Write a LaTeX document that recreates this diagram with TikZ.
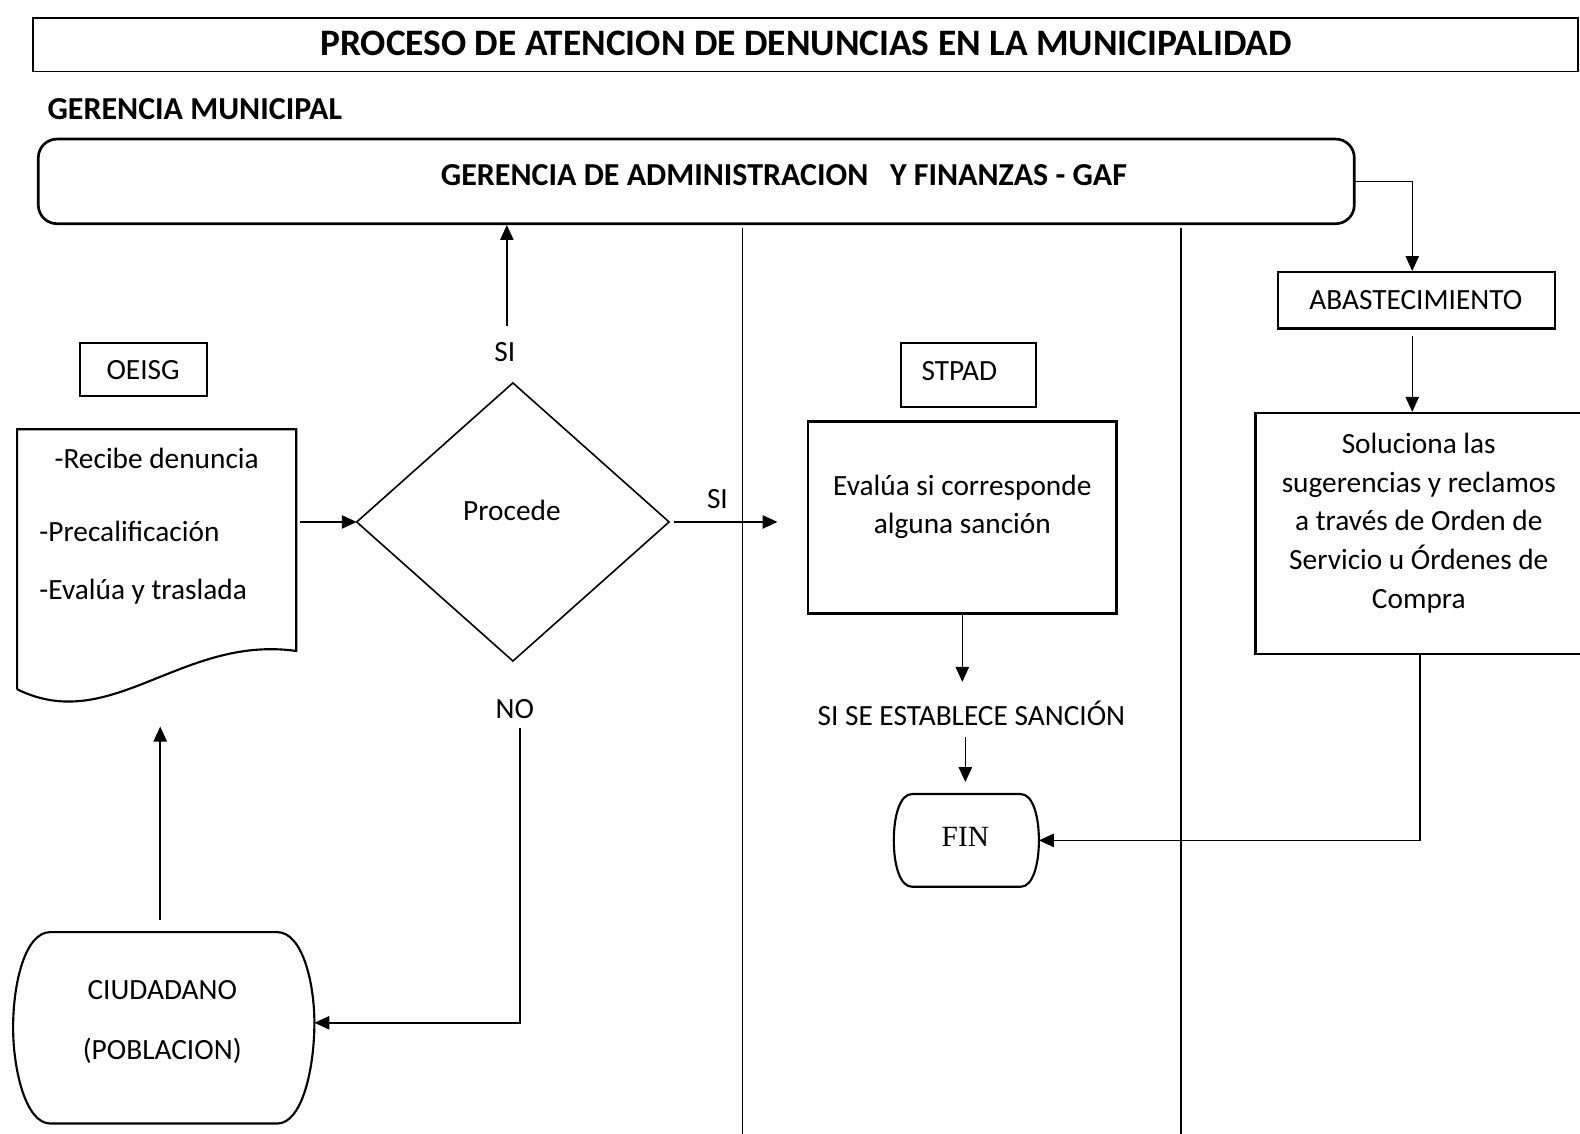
\documentclass[tikz,border=0pt]{standalone}
\usepackage{fontspec}
\setmainfont{Carlito}
\newfontfamily\timesf{Liberation Serif}
\usetikzlibrary{arrows.meta,fit,calc}
\tikzset{
  box/.style={draw, line width=0.8pt, inner sep=0pt},
  txt/.style={inner sep=1pt, font=\fontsize{11}{14.5}\selectfont, align=center},
  conn/.style={line width=0.55pt},
  arr/.style={conn, -{Triangle[length=5.6pt,width=5pt]}},
  lane/.style={line width=0.45pt}
}
\begin{document}
\begin{tikzpicture}[x=0.3779pt, y=-0.3779pt]
\useasboundingbox (0,0) rectangle (1568,1125);

% title
\node[box, line width=0.6pt, fit={(33,18) (1566,71)}] (titlebox) {};
\node[txt, font=\fontsize{14}{17}\bfseries] (title) at (800,43) {PROCESO DE ATENCION DE DENUNCIAS EN LA MUNICIPALIDAD};

\node[txt, font=\fontsize{12}{14}\bfseries, anchor=west] (gm) at (44,108) {GERENCIA MUNICIPAL};

% GAF
\node[box, rounded corners=7pt, line width=1pt, fit={(38,138) (1344,222)}] (gaf) {};
\node[txt, font=\fontsize{12}{14}\bfseries] (gaftxt) at (778,174) {GERENCIA DE ADMINISTRACION\ \ \ Y FINANZAS - GAF};

% lanes
\coordinate (l1t) at (737,226); \coordinate (l1b) at (737,1130);
\coordinate (l2t) at (1172,226); \coordinate (l2b) at (1172,1130);
\draw[lane] (l1t) -- (l1b);
\draw[lane] (l2t) -- (l2b);

% OEISG
\node[box, fit={(79,340) (205,393)}] (oeisg) {};
\node[txt] (oeisgtxt) at (142,367) {OEISG};

% document shape
\coordinate (docTL) at (17,426);
\coordinate (docTR) at (294,426);
\coordinate (docBR) at (294,646);
\coordinate (docBL) at (17,684);
\draw[line width=0.8pt] (docBL) -- (docTL) -- (docTR) -- (docBR)
   .. controls (180,630) and (110,730) .. (docBL);
\coordinate (docE) at (294,518);
\node[txt, anchor=west] (d1) at (51,455) {-Recibe denuncia};
\node[txt, anchor=west] (d2) at (36,527) {-Precalificación};
\node[txt, anchor=west] (d3) at (36,587) {-Evalúa y traslada};

% diamond
\coordinate (dl) at (354,518);
\coordinate (dt) at (509,380);
\coordinate (dr) at (664,518);
\coordinate (db) at (509,656);
\draw[line width=0.6pt] (dl) -- (dt) -- (dr) -- (db) -- cycle;
\node[txt] (proc) at (508,507) {Procede};

\node[txt] (siup) at (501,349) {SI};
\node[txt] (siright) at (712,495) {SI};
\node[txt] (no) at (511,704) {NO};

% STPAD
\node[box, fit={(894,340) (1028,404)}] (stpad) {};
\node[txt] (stpadtxt) at (952,368) {STPAD};

\node[box, line width=1pt, fit={(802,418) (1108,609)}] (eval) {};
\node[txt] (evaltxt) at (955,503) {Evalúa si corresponde\\alguna sanción};

\node[txt] (sanc) at (964,708) {SI SE ESTABLECE SANCIÓN};

% FIN terminator
\coordinate (finTL) at (905,788);
\coordinate (finTR) at (1013,788);
\coordinate (finBR) at (1013,880);
\coordinate (finBL) at (905,880);
\coordinate (finE) at (1031,834);
\coordinate (finN) at (958,788);
\draw[line width=0.8pt] (finTL) -- (finTR)
  .. controls (1025,788) and (1031,810) .. (finE)
  .. controls (1031,858) and (1025,880) .. (finBR) -- (finBL)
  .. controls (893,880) and (887,858) .. (887,834)
  .. controls (887,810) and (893,788) .. (finTL);
\node[txt, font=\timesf\fontsize{11}{13}\selectfont] (fin) at (958,831) {FIN};

% ABASTECIMIENTO
\node[box, fit={(1268,270) (1543,326)}] (abast) {};
\node[txt] (abasttxt) at (1405,298) {ABASTECIMIENTO};

\node[box, line width=1pt, fit={(1246,410) (1572,649)}] (sol) {};
\node[txt] (soltxt) at (1408,519) {Soluciona las\\sugerencias y reclamos\\a través de Orden de\\Servicio u Órdenes de\\Compra};

% CIUDADANO terminator
\coordinate (cTL) at (50,925);
\coordinate (cTR) at (275,925);
\coordinate (cBR) at (275,1115);
\coordinate (cBL) at (50,1115);
\coordinate (ciudE) at (312,1015);
\coordinate (ciudN) at (159,925);
\draw[line width=0.8pt] (cTL) -- (cTR)
  .. controls (300,925) and (312,975) .. (ciudE)
  .. controls (312,1060) and (300,1115) .. (cBR) -- (cBL)
  .. controls (25,1115) and (13,1060) .. (13,1020)
  .. controls (13,975) and (25,925) .. (cTL);
\node[txt] (ciud1) at (161,983) {CIUDADANO};
\node[txt] (ciud2) at (161,1043) {(POBLACION)};

% connectors
\coordinate (gafR) at (1344,180);
\draw[arr] (gafR) -| ($(abast.north)+(-4,0)$);
\draw[arr] ($(abast.south)+(-4,6)$) -- ($(abast.south |- sol.north)+(-4,0)$);
\draw[arr] (sol.south) |- (finE);
\draw[arr] ($(docE)+(4,0)$) -- (dl);
\draw[arr, shorten >=11pt] ($(dr)+(5,0)$) -- (dr -| eval.west);
\draw[arr, shorten <=5pt] ($(siup.north)+(2,0)$) -- ($(siup.north |- gaf.south)+(2,0)$);
\draw[arr, shorten >=6pt] (eval.south) -- (eval.south |- sanc.north);
\draw[arr, shorten <=3pt, shorten >=4.5pt] ($(sanc.south)+(-6,0)$) -- (finN);
\draw[arr] ($(no.south)+(5,6)$) |- (ciudE);
\draw[arr, shorten <=4.5pt, shorten >=14pt] (ciudN) -- (ciudN |- docBL);
\end{tikzpicture}
\end{document}
